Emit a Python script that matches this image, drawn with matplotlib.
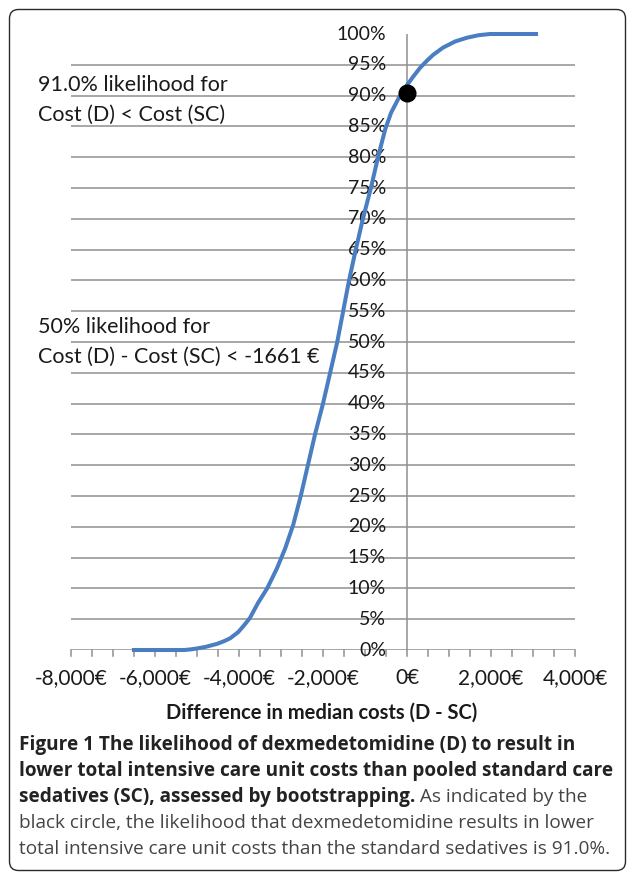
import matplotlib
matplotlib.use("Agg")
import matplotlib.pyplot as plt
from matplotlib.patches import FancyBboxPatch
from matplotlib.transforms import IdentityTransform

# ---- data ----
cost_diff = [-6550, -6000, -5600, -5300, -5150, -5000, -4800, -4520, -4350, -4210,
             -4020, -3880, -3740, -3550, -3330, -3100, -2900, -2710, -2530, -2360,
             -2190, -2000, -1830, -1661, -1520, -1380, -1220, -1050, -860, -690,
             -520, -380, -190, 0, 150, 310, 480, 620, 860, 1150, 1430, 1700,
             1980, 2400, 3120]
likelihood = [0.0, 0.0, 0.0, 0.0, 0.001, 0.0025, 0.005, 0.010, 0.0145, 0.019,
              0.029, 0.040, 0.052, 0.076, 0.100, 0.132, 0.165, 0.203, 0.25, 0.30,
              0.35, 0.40, 0.45, 0.50, 0.55, 0.60, 0.65, 0.70, 0.75, 0.80,
              0.845, 0.872, 0.897, 0.917, 0.931, 0.945, 0.957, 0.966, 0.978, 0.988,
              0.994, 0.998, 1.0, 1.0, 1.0]
point_x = [0]
point_y = [0.905]
x_major = [-8000, -6000, -4000, -2000, 0, 2000, 4000]
x_major_labels = ["-8,000€", "-6,000€", "-4,000€", "-2,000€", "0€", "2,000€", "4,000€"]
x_minor_step = 500
y_ticks = [i / 100 for i in range(0, 101, 5)]
y_labels = [f"{i}%" for i in range(0, 101, 5)]
x_title = "Difference in median costs (D - SC)"
note1 = ["91.0% likelihood for", "Cost (D) < Cost (SC)"]
note2 = ["50% likelihood for", "Cost (D) - Cost (SC) < -1661 €"]
caption_bold = ["Figure 1 The likelihood of dexmedetomidine (D) to result in",
                "lower total intensive care unit costs than pooled standard care",
                "sedatives (SC), assessed by bootstrapping."]
caption_regular = [" As indicated by the",
                   "black circle, the likelihood that dexmedetomidine results in lower",
                   "total intensive care unit costs than the standard sedatives is 91.0%."]

W, H = 627, 873
DPI = 100
fig = plt.figure(figsize=(W / DPI, H / DPI), dpi=DPI)
fig.patch.set_facecolor("white")

CHART_FONT = ["Lato", "DejaVu Sans"]
CAP_FONT = ["Open Sans", "DejaVu Sans"]
GRID = "#8f8f8f"
TXT = "#1a1a1a"

# axes placement in pixels
x0, x1 = 71, 575
ytop, ybot = 34, 650
ax = fig.add_axes([x0 / W, (H - ybot) / H, (x1 - x0) / W, (ybot - ytop) / H])
ax.set_xlim(-8000, 4000)
ax.set_ylim(0, 1)
for s in ax.spines.values():
    s.set_visible(False)
ax.set_xticks([])
ax.set_yticks([])
ax.patch.set_alpha(0)

# gridlines (5%..95%) and the x axis line at 0%
for yv in y_ticks[1:-1]:
    ax.axhline(yv, color=GRID, lw=1.1, zorder=1)
ax.axhline(0, color=GRID, lw=1.1, zorder=1)
# vertical axis at 0
ax.plot([0, 0], [0, 1], color=GRID, lw=1.1, zorder=1)

# x ticks every 500, pointing down
tick_len = 6 / (ybot - ytop)
xt = -8000
while xt <= 4000:
    ax.plot([xt, xt], [0, -tick_len], color=GRID, lw=1.1, zorder=1, clip_on=False)
    xt += x_minor_step

# y tick labels next to the vertical axis
for yv, lab in zip(y_ticks, y_labels):
    ax.annotate(lab, xy=(0, yv), xytext=(-15, 0), textcoords="offset points",
                ha="right", va="center", fontsize=14, family=CHART_FONT,
                color=TXT, zorder=3)

# x tick labels
for xv, lab in zip(x_major, x_major_labels):
    ax.annotate(lab, xy=(xv, 0), xytext=(0, -20), textcoords="offset points",
                ha="center", va="center", fontsize=15, family=CHART_FONT,
                color=TXT, annotation_clip=False)

# x axis title
fig.text(322 / W, 1 - 713 / H, x_title, ha="center", va="center", fontsize=14.5,
         fontweight="bold", family=CHART_FONT, color=TXT)

# curve and marker
ax.plot(cost_diff, likelihood, color="#4A7EC2", lw=2.9, zorder=4,
        solid_capstyle="butt", solid_joinstyle="round", clip_on=False)
ax.plot(point_x, point_y, "o", color="black", ms=12, zorder=5, clip_on=False)

# annotations
for (yb, s) in [(91, note1[0]), (121, note1[1]), (333, note2[0]), (363, note2[1])]:
    fig.text(38 / W, 1 - yb / H, s, ha="left", va="baseline", fontsize=15.5,
             family=CHART_FONT, color=TXT)

# caption
cap_x = 19 / W
baselines = [750, 776, 802, 828, 854]
CAP_SIZE = 13.7
fig.text(cap_x, 1 - baselines[0] / H, caption_bold[0], ha="left", va="baseline",
         fontsize=CAP_SIZE, fontweight="bold", family=CAP_FONT, color="#222222")
fig.text(cap_x, 1 - baselines[1] / H, caption_bold[1], ha="left", va="baseline",
         fontsize=CAP_SIZE, fontweight="bold", family=CAP_FONT, color="#222222")
t3 = fig.text(cap_x, 1 - baselines[2] / H, caption_bold[2], ha="left", va="baseline",
              fontsize=CAP_SIZE, fontweight="bold", family=CAP_FONT, color="#222222")
fig.canvas.draw()
bb = t3.get_window_extent()
fig.text(bb.x1 / W, 1 - baselines[2] / H, caption_regular[0], ha="left", va="baseline",
         fontsize=CAP_SIZE, family=CAP_FONT, color="#444444")
fig.text(cap_x, 1 - baselines[3] / H, caption_regular[1], ha="left", va="baseline",
         fontsize=CAP_SIZE, family=CAP_FONT, color="#444444")
fig.text(cap_x, 1 - baselines[4] / H, caption_regular[2], ha="left", va="baseline",
         fontsize=CAP_SIZE, family=CAP_FONT, color="#444444")

# rounded border
border = FancyBboxPatch((9.5, 2.5), 616, 861, boxstyle="round,pad=0,rounding_size=9",
                        transform=IdentityTransform(), facecolor="none",
                        edgecolor="#2a2a2a", lw=1.0)
fig.patches.append(border)

fig.savefig("out.png", dpi=DPI)
